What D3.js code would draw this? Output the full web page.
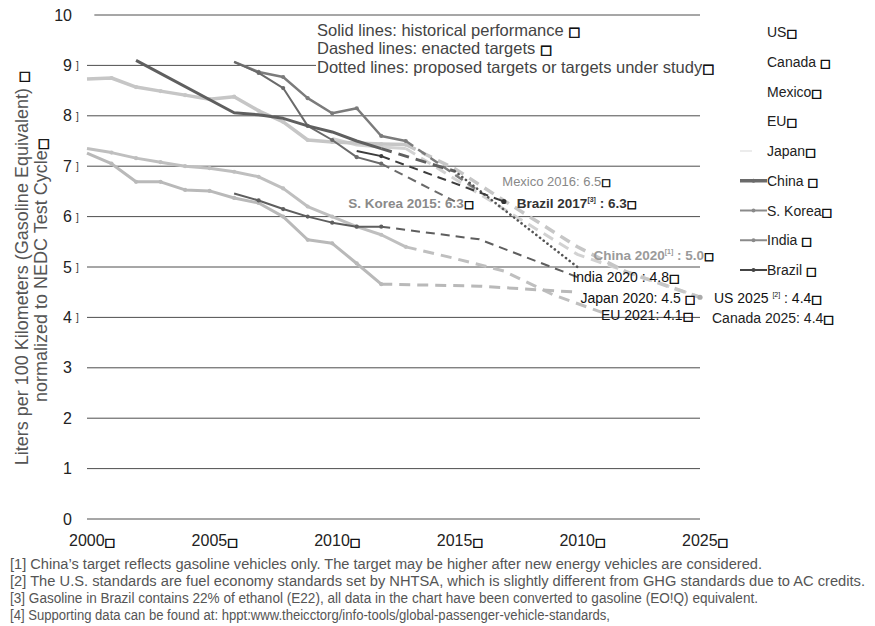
<!DOCTYPE html>
<html>
<head>
<meta charset="utf-8">
<script src="https://cdn.jsdelivr.net/npm/d3@7"></script>
<style>
  body { margin: 0; background: #fff; }
  text { font-family: "Liberation Sans", Arial, sans-serif; }
</style>
</head>
<body>
<svg id="chart" width="875" height="626"></svg>
<script>

// Axis ticks.
var yTicks = [0, 1, 2, 3, 4, 5, 6, 7, 8, 9, 10];
var bracketTicks = [4, 5, 6, 7, 8, 9];
var xTicks = [2000, 2005, 2010, 2015, 2020, 2025];
var xTickLabels = ['2000', '2005', '2010', '2015', '2010', '2025'];

// Historical performance / enacted targets / proposed targets, [year, L/100km].
var usHist = [[2000, 8.73], [2001, 8.75], [2002, 8.57], [2003, 8.49],
  [2004, 8.41], [2005, 8.33], [2006, 8.38], [2007, 8.1], [2008, 7.88],
  [2009, 7.52], [2010, 7.48], [2011, 7.46], [2012, 7.44], [2013, 7.43]];
var usEnacted = [[2013, 7.43], [2015, 6.95], [2017, 6.32], [2020, 5.4],
  [2022, 4.9], [2025, 4.4]];

var canadaHist = [[2010, 7.55], [2011, 7.42], [2012, 7.38], [2013, 7.35]];
var canadaEnacted = [[2013, 7.35], [2016, 6.45], [2020, 5.25], [2025, 4.4]];

var mexicoHist = [[2006, 9.07], [2007, 8.87], [2008, 8.77], [2009, 8.35],
  [2010, 8.05], [2011, 8.15], [2012, 7.6], [2013, 7.5]];
var mexicoEnacted = [[2013, 7.5], [2016, 6.5]];

var euHist = [[2000, 7.35], [2001, 7.27], [2002, 7.16], [2003, 7.08],
  [2004, 7.0], [2005, 6.96], [2006, 6.89], [2007, 6.79], [2008, 6.56],
  [2009, 6.2], [2010, 6.0], [2011, 5.8], [2012, 5.64], [2013, 5.4]];
var euEnacted = [[2013, 5.4], [2015, 5.17], [2017, 4.92], [2019, 4.45],
  [2021, 4.1]];

var japanHist = [[2000, 7.26], [2001, 7.05], [2002, 6.69], [2003, 6.69],
  [2004, 6.53], [2005, 6.51], [2006, 6.37], [2007, 6.27], [2008, 6.0],
  [2009, 5.54], [2010, 5.47], [2011, 5.07], [2012, 4.66]];
var japanEnacted = [[2012, 4.66], [2016, 4.62], [2020, 4.5]];

var chinaHist = [[2002, 9.1], [2006, 8.06], [2007, 8.02], [2008, 7.95],
  [2009, 7.8], [2010, 7.68], [2011, 7.5], [2012, 7.35]];
var chinaEnacted = [[2012, 7.35], [2015, 6.9]];
var chinaProposed = [[2015, 6.9], [2020, 5.0]];

var koreaHist = [[2006, 9.07], [2007, 8.85], [2008, 8.55], [2009, 7.8],
  [2010, 7.52], [2011, 7.18], [2012, 7.05]];
var koreaEnacted = [[2012, 7.05], [2015, 6.3]];

var indiaHist = [[2006, 6.46], [2007, 6.32], [2008, 6.15], [2009, 6.0],
  [2010, 5.88], [2011, 5.8], [2012, 5.8]];
var indiaEnacted = [[2012, 5.8], [2016, 5.55], [2020, 4.8]];

var brazilHist = [[2011, 7.3], [2012, 7.2]];
var brazilEnacted = [[2012, 7.2], [2017, 6.3]];

var legendNames = ['US', 'Canada', 'Mexico', 'EU', 'Japan', 'China',
  'S. Korea', 'India', 'Brazil'];

var keyLines = ['Solid lines: historical performance  ',
  'Dashed lines: enacted targets ',
  'Dotted lines: proposed targets or targets under study'];

var noteLines = [
  '[1] China\u2019s target reflects gasoline vehicles only. The target may be higher after new energy vehicles are considered.',
  '[2] The U.S. standards are fuel economy standards set by NHTSA, which is slightly different from GHG standards due to AC credits.',
  '[3] Gasoline in Brazil contains 22% of ethanol (E22), all data in the chart have been converted to gasoline (EO!Q) equivalent.',
  '[4] Supporting data can be found at: hppt:www.theicctorg/info-tools/global-passenger-vehicle-standards,'
];

var BOX = '\u25A1';

var series = [
  { name: 'Canada', color: '#d2d2d2', width: 3, dot: false,
    hist: canadaHist, enacted: canadaEnacted },
  { name: 'US', color: '#c6c6c6', width: 3.5, dot: true,
    hist: usHist, enacted: usEnacted },
  { name: 'EU', color: '#bfbfbf', width: 3, dot: true,
    hist: euHist, enacted: euEnacted },
  { name: 'Japan', color: '#b9b9b9', width: 3, dot: true,
    hist: japanHist, enacted: japanEnacted },
  { name: 'Mexico', color: '#7b7b7b', width: 2.5, dot: true,
    hist: mexicoHist, enacted: mexicoEnacted },
  { name: 'India', color: '#5e5e5e', width: 2, dot: true,
    hist: indiaHist, enacted: indiaEnacted },
  { name: 'S. Korea', color: '#6a6a6a', width: 2, dot: true,
    hist: koreaHist, enacted: koreaEnacted },
  { name: 'China', color: '#5f5f5f', width: 3, dot: false,
    hist: chinaHist, enacted: chinaEnacted, proposed: chinaProposed },
  { name: 'Brazil', color: '#3c3c3c', width: 2, dot: true,
    hist: brazilHist, enacted: brazilEnacted }
];

var svg = d3.select('#chart');

var x = d3.scaleLinear().domain([2000, 2025]).range([87, 700]);
var y = d3.scaleLinear().domain([0, 10]).range([519, 15]);

var line = d3.line()
  .x(function(d) { return x(d[0]); })
  .y(function(d) { return y(d[1]); });


/**
 * Append the missing-glyph box after a text node.
 */
function box(sel, size) {
  sel.append('tspan')
    .attr('font-family', 'DejaVu Sans')
    .attr('font-weight', 'normal')
    .attr('font-size', size)
    .attr('fill', '#111')
    .attr('stroke', '#111')
    .attr('stroke-width', 0.6)
    .text(BOX);
}


// Gridlines.
svg.append('g')
  .selectAll('line')
  .data(yTicks)
  .join('line')
  .attr('x1', function(d) { return d === 10 ? x(2000.3) : x(2000); })
  .attr('x2', x(2025))
  .attr('y1', function(d) { return y(d); })
  .attr('y2', function(d) { return y(d); })
  .attr('stroke', '#3a3a3a')
  .attr('stroke-width', 0.9);

// Y axis labels.
var yAxis = svg.append('g')
  .attr('transform', 'translate(' + x(2000) + ',0)')
  .call(d3.axisLeft(y).tickValues(yTicks).tickSize(0).tickPadding(15)
    .tickFormat(d3.format('d')));
yAxis.select('.domain').remove();
yAxis.selectAll('text')
  .attr('font-size', 16)
  .attr('fill', '#222')
  .attr('font-family', '"Liberation Sans", Arial, sans-serif');

svg.append('g')
  .selectAll('text')
  .data(bracketTicks)
  .join('text')
  .attr('x', 76)
  .attr('y', function(d) { return y(d) + 4; })
  .attr('font-size', 10)
  .attr('fill', '#333')
  .text(']');

// X axis labels.
var xAxis = svg.append('g')
  .attr('transform', 'translate(0,' + y(0) + ')')
  .call(d3.axisBottom(x).tickValues(xTicks).tickSize(0).tickPadding(16)
    .tickFormat(function(d, i) { return xTickLabels[i]; }));
xAxis.select('.domain').remove();
xAxis.selectAll('text')
  .attr('font-size', 16)
  .attr('fill', '#222')
  .attr('text-anchor', 'start')
  .attr('x', -18.5)
  .attr('font-family', '"Liberation Sans", Arial, sans-serif')
  .call(box, 11);

// Y axis title.
var yTitle = svg.append('g')
  .attr('fill', '#555')
  .attr('font-size', 18)
  .attr('text-anchor', 'middle');
yTitle.append('text')
  .attr('transform', 'translate(28,268) rotate(-90)')
  .text('Liters per 100 Kilometers  (Gasoline Equivalent) ')
  .call(box, 13);
yTitle.append('text')
  .attr('transform', 'translate(47,270) rotate(-90)')
  .text('normalized to NEDC Test Cycle')
  .call(box, 13);

// Series lines.
var marks = svg.append('g').attr('fill', 'none');

series.forEach(function(s) {
  var g = marks.append('g');

  g.append('path')
    .datum(s.hist)
    .attr('d', line)
    .attr('stroke', s.color)
    .attr('stroke-width', s.width)
    .attr('stroke-linejoin', 'round');

  g.append('path')
    .datum(s.enacted)
    .attr('d', line)
    .attr('stroke', s.color)
    .attr('stroke-width', s.width)
    .attr('stroke-dasharray', s.width > 2.8 ? '11,7' : '9,6');

  if (s.proposed) {
    g.append('path')
      .datum(s.proposed)
      .attr('d', line)
      .attr('stroke', '#555')
      .attr('stroke-width', 2.6)
      .attr('stroke-linecap', 'round')
      .attr('stroke-dasharray', '0.1,4.6');
  }

  if (s.dot) {
    g.selectAll('circle')
      .data(s.hist.slice(1))
      .join('circle')
      .attr('cx', function(d) { return x(d[0]); })
      .attr('cy', function(d) { return y(d[1]); })
      .attr('r', 2.1)
      .attr('fill', s.color);
  }
});

// End point marks.
var ends = [brazilEnacted[1], usEnacted[usEnacted.length - 1]];
svg.append('g')
  .selectAll('circle')
  .data(ends)
  .join('circle')
  .attr('cx', function(d) { return x(d[0]); })
  .attr('cy', function(d) { return y(d[1]); })
  .attr('r', 2.6)
  .attr('fill', function(d, i) { return i === 0 ? '#333' : '#aaa'; });

// Target labels.
var labels = [
  { at: mexicoEnacted[1], dx: 23, dy: -5, parts: ['Mexico 2016: 6.5'],
    fill: '#888', size: 13, anchor: 'start' },
  { at: koreaEnacted[1], dx: 19, dy: 6.5, parts: ['S. Korea 2015: 6.3'],
    fill: '#8a8a8a', size: 13.5, bold: true, serif: true, anchor: 'end' },
  { at: brazilEnacted[1], dx: 13, dy: 6.5, parts: ['Brazil 2017', '[3]', ' : 6.3'],
    fill: '#333', size: 13.5, bold: true, serif: true, anchor: 'start' },
  { at: chinaProposed[1], dx: 16, dy: -7, parts: ['China 2020', '[1]', ' : 5.0'],
    fill: '#9a9a9a', size: 13.5, bold: true, serif: true, anchor: 'start' },
  { at: indiaEnacted[2], dx: -5, dy: 5, parts: ['India 2020 : 4.8'],
    fill: '#111', size: 14, anchor: 'start' },
  { at: japanEnacted[2], dx: 3, dy: 10.5, parts: ['Japan 2020: 4.5 '],
    fill: '#111', size: 14, anchor: 'start' },
  { at: euEnacted[4], dx: -1, dy: 8, parts: ['EU 2021: 4.1'],
    fill: '#111', size: 14, anchor: 'start' },
  { at: usEnacted[5], dx: 14, dy: 5.5, parts: ['US 2025 ', '[2]', ' : 4.4'],
    fill: '#111', size: 14, anchor: 'start' },
  { at: canadaEnacted[3], dx: 12, dy: 25.5, parts: ['Canada 2025: 4.4'],
    fill: '#222', size: 14, anchor: 'start' }
];

labels.forEach(function(l) {
  var t = svg.append('text')
    .attr('x', x(l.at[0]) + l.dx)
    .attr('y', y(l.at[1]) + l.dy)
    .attr('fill', l.fill)
    .attr('font-size', l.size)
    .attr('text-anchor', l.anchor)
    .attr('font-weight', l.bold ? 'bold' : 'normal')
    .attr('font-family', l.serif ? '"Liberation Serif", serif' :
      '"Liberation Sans", Arial, sans-serif');
  var raised = false;
  l.parts.forEach(function(p) {
    var sup = p.charAt(0) === '[';
    t.append('tspan')
      .attr('font-size', sup ? 7 : null)
      .attr('dy', sup ? -6 : (raised ? 6 : 0))
      .text(p);
    raised = sup;
  });
  box(t, l.size - 3);
});

// Line-style key.
var key = svg.append('g');
key.append('rect')
  .attr('x', 316).attr('y', 21)
  .attr('width', 406).attr('height', 56)
  .attr('fill', '#fff');
key.selectAll('text')
  .data(keyLines)
  .join('text')
  .attr('x', 317)
  .attr('y', function(d, i) { return 36 + i * 18.3; })
  .attr('font-size', 16.5)
  .attr('fill', '#444')
  .text(function(d) { return d; })
  .call(box, 13);

// Country legend.
var legendY = d3.scalePoint().domain(legendNames).range([37, 275]);
var legendStyle = {
  'Japan': { color: '#e6e6e6', width: 1.5, x1: 740, x2: 752, dot: false },
  'China': { color: '#6a6a6a', width: 3.5, x1: 740, x2: 767, dot: true },
  'S. Korea': { color: '#8a8a8a', width: 2, x1: 740, x2: 767, dot: true },
  'India': { color: '#8a8a8a', width: 2, x1: 740, x2: 767, dot: true },
  'Brazil': { color: '#444', width: 2, x1: 740, x2: 767, dot: true }
};
var spaced = ['Canada', 'China', 'India', 'Brazil'];

var legend = svg.append('g');
legendNames.forEach(function(n) {
  var ly = legendY(n);
  var st = legendStyle[n];
  if (st) {
    legend.append('line')
      .attr('x1', st.x1).attr('x2', st.x2)
      .attr('y1', ly - 5).attr('y2', ly - 5)
      .attr('stroke', st.color)
      .attr('stroke-width', st.width);
    if (st.dot) {
      legend.append('circle')
        .attr('cx', (st.x1 + st.x2) / 2).attr('cy', ly - 5)
        .attr('r', 2).attr('fill', st.color);
    }
  }
  legend.append('text')
    .attr('x', 767)
    .attr('y', ly)
    .attr('font-size', 14)
    .attr('fill', '#222')
    .text(n + (spaced.indexOf(n) >= 0 ? ' ' : ''))
    .call(box, 11);
});

// Footnotes, squeezed to the narrow face of the original.
var noteWidths = [752, 855, 748, 600];
svg.append('g')
  .selectAll('text')
  .data(noteLines)
  .join('text')
  .attr('x', 10)
  .attr('y', function(d, i) { return 569 + i * 17; })
  .attr('font-size', 14)
  .attr('fill', '#555')
  .attr('textLength', function(d, i) { return noteWidths[i]; })
  .attr('lengthAdjust', 'spacingAndGlyphs')
  .text(function(d) { return d; });

</script>
</body>
</html>
